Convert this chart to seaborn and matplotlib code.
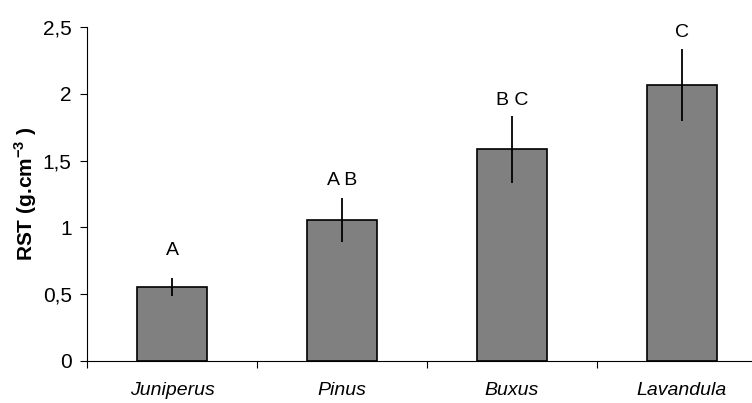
import numpy as np
import pandas as pd
import matplotlib
matplotlib.use("Agg")
import matplotlib.pyplot as plt
import seaborn as sns
from matplotlib.ticker import FuncFormatter, FixedLocator

# data
species = ["Juniperus", "Pinus", "Buxus", "Lavandula"]
rst_mean = [0.555, 1.055, 1.585, 2.065]
rst_err = [0.065, 0.165, 0.25, 0.27]
letters = ["A", "A B", "B C", "C"]
letter_y = [0.83, 1.35, 1.95, 2.46]
y_ticks = [0, 0.5, 1, 1.5, 2, 2.5]

sns.set_style("ticks")
plt.rcParams["font.family"] = ["Liberation Sans", "DejaVu Sans"]
plt.rcParams["mathtext.fontset"] = "custom"
plt.rcParams["mathtext.rm"] = "Liberation Sans:bold"
plt.rcParams["mathtext.bf"] = "Liberation Sans:bold"
plt.rcParams["text.color"] = "black"
plt.rcParams["axes.labelcolor"] = "black"
plt.rcParams["xtick.color"] = "black"
plt.rcParams["ytick.color"] = "black"

df = pd.DataFrame({"species": species, "rst": rst_mean})

fig = plt.figure(figsize=(7.52, 4.03), dpi=100)
ax = fig.add_axes([87 / 752, 42 / 403, (752 - 87) / 752, 334 / 403])

sns.barplot(data=df, x="species", y="rst", color="#808080", saturation=1,
            edgecolor="black", linewidth=1.2, width=0.41, errorbar=None, ax=ax)
ax.errorbar(x=np.arange(len(species)), y=rst_mean, yerr=rst_err, fmt="none",
            ecolor="black", elinewidth=1.3, capsize=0)

for i, (lab, ly) in enumerate(zip(letters, letter_y)):
    ax.text(i, ly, lab, ha="center", va="center", fontsize=14)

ax.set_xlim(-0.5, (752 - 87) / 170 - 0.5)
ax.set_ylim(0, 2.5)
ax.yaxis.set_major_locator(FixedLocator(y_ticks))
ax.yaxis.set_major_formatter(FuncFormatter(lambda v, p: f"{v:g}".replace(".", ",")))
ax.tick_params(axis="y", labelsize=15, length=5, width=0.8, pad=6)

ax.set_xticks(range(len(species)))
ax.set_xticklabels(species, fontstyle="italic", fontsize=14)
ax.tick_params(axis="x", which="major", length=0, pad=15)
ax.set_xticks([-0.5, 0.5, 1.5, 2.5], minor=True)
ax.tick_params(axis="x", which="minor", length=5, width=0.8)

ax.set_xlabel("")
ax.set_ylabel(r"RST (g.cm$^{-3}$ )", fontsize=15, fontweight="bold", labelpad=3)

for s in ["top", "right"]:
    ax.spines[s].set_visible(False)
for s in ["left", "bottom"]:
    ax.spines[s].set_linewidth(0.8)
    ax.spines[s].set_color("black")

fig.savefig("out.png", dpi=100)
